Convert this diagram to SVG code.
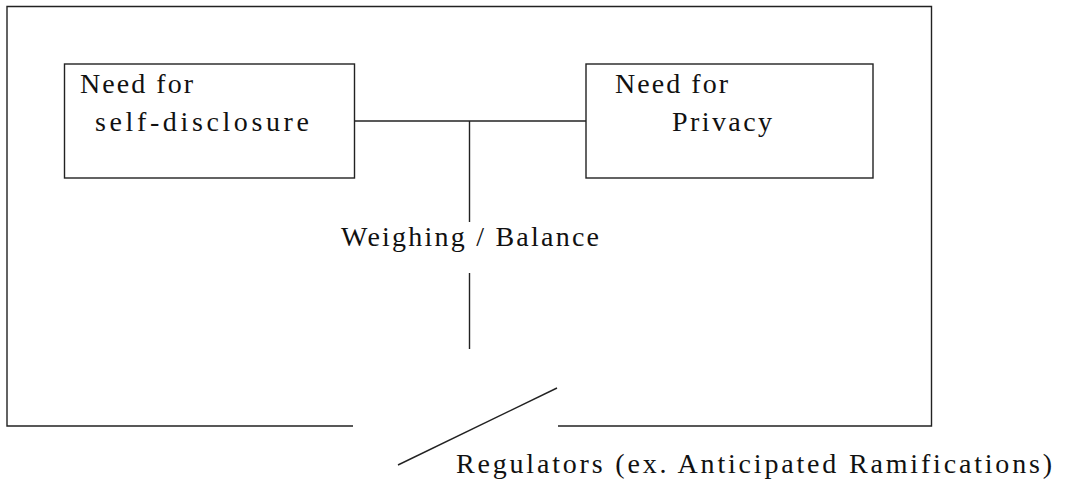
<svg xmlns="http://www.w3.org/2000/svg" width="1069" height="486" viewBox="0 0 1069 486">
  <style>
    .line { stroke: #222; stroke-width: 1.4; fill: none; }
    .box { stroke: #222; stroke-width: 1.4; fill: #fff; }
    .label { font-family: "Liberation Serif", "DejaVu Serif", serif; font-size: 28px; fill: #111; }
  </style>
  <rect width="1069" height="486" fill="#fff"/>

  <!-- outer frame, open at the bottom where the regulator acts -->
  <g id="frame">
    <path class="line" d="M353,426 H7 V6.5 H931.5 V426 H558"/>
  </g>

  <g id="connectors">
    <line class="line" x1="354" y1="121" x2="586" y2="121"/>
    <line class="line" x1="469.5" y1="121" x2="469.5" y2="222"/>
    <line class="line" x1="469.5" y1="273" x2="469.5" y2="349"/>
    <line class="line" x1="398" y1="465" x2="557" y2="388"/>
  </g>

  <g id="self-disclosure">
    <rect class="box" x="64.5" y="64" width="290" height="114"/>
    <text class="label" x="80" y="93" textLength="113" lengthAdjust="spacing">Need for</text>
    <text class="label" x="95" y="131" textLength="214" lengthAdjust="spacing">self-disclosure</text>
  </g>

  <g id="privacy">
    <rect class="box" x="586" y="64" width="287" height="114"/>
    <text class="label" x="615" y="93" textLength="113" lengthAdjust="spacing">Need for</text>
    <text class="label" x="672" y="131" textLength="100" lengthAdjust="spacing">Privacy</text>
  </g>

  <g id="balance">
    <text class="label" x="341" y="246" textLength="258" lengthAdjust="spacing">Weighing / Balance</text>
  </g>

  <g id="regulators">
    <text class="label" x="456" y="473" textLength="596" lengthAdjust="spacing">Regulators (ex. Anticipated Ramifications)</text>
  </g>
</svg>
